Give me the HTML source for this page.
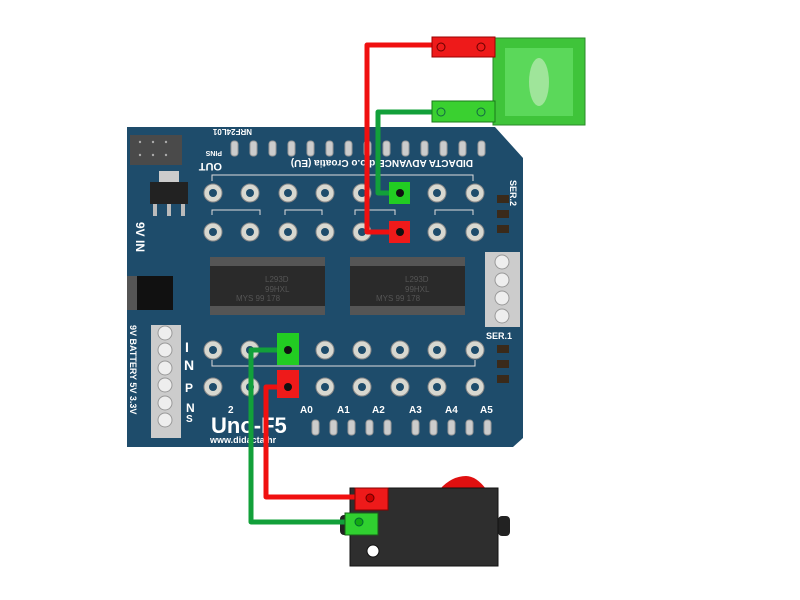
<!DOCTYPE html>
<html><head><style>body{margin:0;background:#fff}svg{display:block}</style></head><body>
<svg width="800" height="600" viewBox="0 0 800 600" xmlns="http://www.w3.org/2000/svg" font-family="Liberation Sans, sans-serif">
<rect width="800" height="600" fill="#fff"/>
<!-- sensor -->
<rect x="493" y="38" width="92" height="87" fill="#3fc43a" stroke="#2a8a28"/>
<rect x="505" y="48" width="68" height="68" fill="#5bd85a"/>
<ellipse cx="539" cy="82" rx="10" ry="24" fill="#9fe59a"/>
<!-- board -->
<path d="M127,127 L495,127 L523,158 L523,438 L513,447 L127,447 Z" fill="#1e4c6b"/>
<rect x="130" y="135" width="52" height="30" fill="#4a4a4a"/>
<g fill="#aaa">
<circle cx="140" cy="142" r="1.2"/><circle cx="153" cy="142" r="1.2"/><circle cx="166" cy="142" r="1.2"/>
<circle cx="140" cy="155" r="1.2"/><circle cx="153" cy="155" r="1.2"/><circle cx="166" cy="155" r="1.2"/></g>
<!-- regulator -->
<rect x="159" y="171" width="20" height="11" fill="#ccc"/>
<rect x="150" y="182" width="38" height="22" fill="#222"/>
<rect x="153" y="204" width="4" height="12" fill="#bbb"/><rect x="167" y="204" width="4" height="12" fill="#bbb"/><rect x="181" y="204" width="4" height="12" fill="#bbb"/>
<!-- jack -->
<rect x="127" y="276" width="46" height="34" fill="#111"/>
<rect x="127" y="276" width="10" height="34" fill="#555"/>
<!-- pads -->
<g fill="#ccc" stroke="#999">
<rect x="231" y="141" width="7" height="15" rx="3"/><rect x="250" y="141" width="7" height="15" rx="3"/><rect x="269" y="141" width="7" height="15" rx="3"/><rect x="288" y="141" width="7" height="15" rx="3"/><rect x="307" y="141" width="7" height="15" rx="3"/><rect x="326" y="141" width="7" height="15" rx="3"/><rect x="345" y="141" width="7" height="15" rx="3"/><rect x="364" y="141" width="7" height="15" rx="3"/><rect x="383" y="141" width="7" height="15" rx="3"/><rect x="402" y="141" width="7" height="15" rx="3"/><rect x="421" y="141" width="7" height="15" rx="3"/><rect x="440" y="141" width="7" height="15" rx="3"/><rect x="459" y="141" width="7" height="15" rx="3"/><rect x="478" y="141" width="7" height="15" rx="3"/>
<rect x="312" y="420" width="7" height="15" rx="3"/><rect x="330" y="420" width="7" height="15" rx="3"/><rect x="348" y="420" width="7" height="15" rx="3"/><rect x="366" y="420" width="7" height="15" rx="3"/><rect x="384" y="420" width="7" height="15" rx="3"/><rect x="412" y="420" width="7" height="15" rx="3"/><rect x="430" y="420" width="7" height="15" rx="3"/><rect x="448" y="420" width="7" height="15" rx="3"/><rect x="466" y="420" width="7" height="15" rx="3"/><rect x="484" y="420" width="7" height="15" rx="3"/>
</g>
<g fill="#fff" font-weight="bold" font-size="10">
<text transform="translate(473,160) rotate(180)" font-size="10">DIDACTA ADVANCE d.o.o Croatia (EU)</text>
<text transform="translate(222,163) rotate(180)" font-size="11">OUT</text>
<text transform="translate(222,151) rotate(180)" font-size="7">PINS</text>
<text transform="translate(252,129) rotate(180)" font-size="8">NRF24L01</text>
<text x="211" y="433" font-size="22">Uno-F5</text>
<text x="210" y="443" font-size="9">www.didacta.hr</text>
<text transform="translate(510,180) rotate(90)" font-size="9">SER.2</text>
<text x="486" y="339" font-size="9">SER.1</text>
<text transform="translate(494,325) rotate(-90)" font-size="9">SCLSDARX TX</text>
<text x="300" y="413">A0</text><text x="337" y="413">A1</text><text x="372" y="413">A2</text><text x="409" y="413">A3</text><text x="445" y="413">A4</text><text x="480" y="413">A5</text><text x="228" y="413">2</text>
<text x="185" y="352" font-size="14">I</text><text x="184" y="370" font-size="14">N</text>
<text x="185" y="392" font-size="12">P</text><text x="186" y="412" font-size="12">N</text><text x="186" y="422" font-size="10">S</text>
<text transform="translate(136,222) rotate(90)" font-size="12">9V IN</text>
</g>
<g stroke="#ddd" fill="none" stroke-width="1">
<path d="M212,181 V175 H473 V181"/><path d="M212,215 V210 H260 V215 M285,215 V210 H322 V215 M355,215 V210 H395 V215 M435,215 V210 H473 V215"/>
<path d="M212,360 V366 H475 V360"/>
</g>
<rect x="485" y="252" width="35" height="75" fill="#ccc"/>
<g fill="#eee" stroke="#999"><circle cx="502" cy="262" r="7"/><circle cx="502" cy="280" r="7"/><circle cx="502" cy="298" r="7"/><circle cx="502" cy="316" r="7"/></g>
<rect x="151" y="325" width="30" height="113" fill="#ccc"/>
<g fill="#eee" stroke="#999"><circle cx="165" cy="333" r="7"/><circle cx="165" cy="350" r="7"/><circle cx="165" cy="368" r="7"/><circle cx="165" cy="385" r="7"/><circle cx="165" cy="403" r="7"/><circle cx="165" cy="420" r="7"/></g>
<text transform="translate(130,325) rotate(90)" fill="#fff" font-size="9" font-weight="bold">9V BATTERY  5V   3.3V</text>
<g fill="#3a2a1a"><rect x="497" y="195" width="12" height="8"/><rect x="497" y="210" width="12" height="8"/><rect x="497" y="225" width="12" height="8"/><rect x="497" y="345" width="12" height="8"/><rect x="497" y="360" width="12" height="8"/><rect x="497" y="375" width="12" height="8"/></g>
<rect x="210" y="257" width="115" height="58" fill="#555"/><rect x="210" y="266" width="115" height="40" fill="#2a2a2a"/>
<rect x="350" y="257" width="115" height="58" fill="#555"/><rect x="350" y="266" width="115" height="40" fill="#2a2a2a"/>
<g fill="#555" font-size="8"><text x="265" y="282">L293D</text><text x="265" y="292">99HXL</text><text x="236" y="301">MYS  99 178</text>
<text x="405" y="282">L293D</text><text x="405" y="292">99HXL</text><text x="376" y="301">MYS  99 178</text></g>
<g fill="#d8d8d0" stroke="#888" stroke-width="1">
<circle cx="213" cy="193" r="9"/><circle cx="250" cy="193" r="9"/><circle cx="288" cy="193" r="9"/><circle cx="325" cy="193" r="9"/><circle cx="362" cy="193" r="9"/><circle cx="437" cy="193" r="9"/><circle cx="475" cy="193" r="9"/>
<circle cx="213" cy="232" r="9"/><circle cx="250" cy="232" r="9"/><circle cx="288" cy="232" r="9"/><circle cx="325" cy="232" r="9"/><circle cx="362" cy="232" r="9"/><circle cx="437" cy="232" r="9"/><circle cx="475" cy="232" r="9"/>
<circle cx="213" cy="350" r="9"/><circle cx="250" cy="350" r="9"/><circle cx="325" cy="350" r="9"/><circle cx="362" cy="350" r="9"/><circle cx="400" cy="350" r="9"/><circle cx="437" cy="350" r="9"/><circle cx="475" cy="350" r="9"/>
<circle cx="213" cy="387" r="9"/><circle cx="250" cy="387" r="9"/><circle cx="325" cy="387" r="9"/><circle cx="362" cy="387" r="9"/><circle cx="400" cy="387" r="9"/><circle cx="437" cy="387" r="9"/><circle cx="475" cy="387" r="9"/>
</g>
<g fill="#1e4c6b">
<circle cx="213" cy="193" r="4"/><circle cx="250" cy="193" r="4"/><circle cx="288" cy="193" r="4"/><circle cx="325" cy="193" r="4"/><circle cx="362" cy="193" r="4"/><circle cx="437" cy="193" r="4"/><circle cx="475" cy="193" r="4"/>
<circle cx="213" cy="232" r="4"/><circle cx="250" cy="232" r="4"/><circle cx="288" cy="232" r="4"/><circle cx="325" cy="232" r="4"/><circle cx="362" cy="232" r="4"/><circle cx="437" cy="232" r="4"/><circle cx="475" cy="232" r="4"/>
<circle cx="213" cy="350" r="4"/><circle cx="250" cy="350" r="4"/><circle cx="325" cy="350" r="4"/><circle cx="362" cy="350" r="4"/><circle cx="400" cy="350" r="4"/><circle cx="437" cy="350" r="4"/><circle cx="475" cy="350" r="4"/>
<circle cx="213" cy="387" r="4"/><circle cx="250" cy="387" r="4"/><circle cx="325" cy="387" r="4"/><circle cx="362" cy="387" r="4"/><circle cx="400" cy="387" r="4"/><circle cx="437" cy="387" r="4"/><circle cx="475" cy="387" r="4"/>
</g>
<!-- switch -->
<path d="M440,489 Q452,476 466,476 Q476,476 486,489 Z" fill="#e01010"/>
<rect x="498" y="516" width="12" height="20" rx="4" fill="#222"/>
<rect x="340" y="515" width="12" height="20" rx="4" fill="#222"/>
<rect x="350" y="488" width="148" height="78" fill="#2e2e2e" stroke="#111"/>
<circle cx="373" cy="551" r="6" fill="#fff" stroke="#111"/>
<g fill="none" stroke-width="5" stroke-linejoin="round">
<path d="M398,232 H367 V45 H445" stroke="#f01010"/>
<path d="M398,193 H378 V112 H445" stroke="#12a03a"/>
<path d="M288,350 H251 V522 H360" stroke="#12a03a"/>
<path d="M288,387 H266 V497 H375" stroke="#f01010"/>
</g>
<rect x="432" y="37" width="63" height="20" fill="#ee1a1a" stroke="#900"/><circle cx="441" cy="47" r="4" fill="none" stroke="#600"/><circle cx="481" cy="47" r="4" fill="none" stroke="#600"/>
<rect x="432" y="101" width="63" height="21" fill="#3ad030" stroke="#1a7a1a"/><circle cx="441" cy="112" r="4" fill="none" stroke="#164"/><circle cx="481" cy="112" r="4" fill="none" stroke="#164"/>
<rect x="389" y="182" width="21" height="22" fill="#22cc22"/><circle cx="400" cy="193" r="4" fill="#111"/>
<rect x="389" y="221" width="21" height="22" fill="#ee1a1a"/><circle cx="400" cy="232" r="4" fill="#111"/>
<rect x="277" y="333" width="22" height="32" fill="#22cc22"/><circle cx="288" cy="350" r="4" fill="#111"/>
<rect x="277" y="370" width="22" height="28" fill="#ee1a1a"/><circle cx="288" cy="387" r="4" fill="#111"/>
<rect x="355" y="488" width="33" height="22" fill="#ee1a1a" stroke="#800"/><circle cx="370" cy="498" r="4" fill="#c00" stroke="#600"/>
<rect x="345" y="513" width="33" height="22" fill="#30d030" stroke="#186018"/><circle cx="359" cy="522" r="4" fill="#1a1" stroke="#063"/>
</svg>
</body></html>
